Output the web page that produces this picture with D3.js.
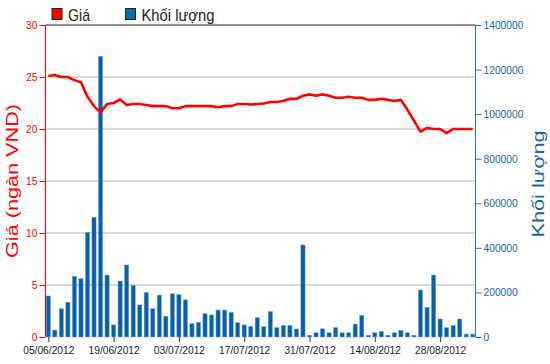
<!DOCTYPE html>
<html><head><meta charset="utf-8">
<script src="https://cdn.jsdelivr.net/npm/d3@7/dist/d3.min.js"></script>
<style>body{margin:0;background:#fff;}svg{display:block;font-family:"Liberation Sans",Arial,sans-serif;}</style>
</head><body>
<svg id="c" width="550" height="364"></svg>
<script>
const dates = ["05/06/2012","06/06/2012","07/06/2012","08/06/2012","11/06/2012","12/06/2012","13/06/2012","14/06/2012","15/06/2012","18/06/2012",
"19/06/2012","20/06/2012","21/06/2012","22/06/2012","25/06/2012","26/06/2012","27/06/2012","28/06/2012","29/06/2012","02/07/2012",
"03/07/2012","04/07/2012","05/07/2012","06/07/2012","09/07/2012","10/07/2012","11/07/2012","12/07/2012","13/07/2012","16/07/2012",
"17/07/2012","18/07/2012","19/07/2012","20/07/2012","23/07/2012","24/07/2012","25/07/2012","26/07/2012","27/07/2012","30/07/2012",
"31/07/2012","01/08/2012","02/08/2012","03/08/2012","06/08/2012","07/08/2012","08/08/2012","09/08/2012","10/08/2012","13/08/2012",
"14/08/2012","15/08/2012","16/08/2012","17/08/2012","20/08/2012","21/08/2012","22/08/2012","23/08/2012","24/08/2012","27/08/2012",
"28/08/2012","29/08/2012","30/08/2012","31/08/2012","04/09/2012","05/09/2012"];
const price = [25.1,25.2,25.0,25.0,24.7,24.5,23.1,22.2,21.6,22.4,
22.5,22.85,22.3,22.4,22.4,22.3,22.2,22.2,22.2,22.0,
22.0,22.2,22.2,22.2,22.2,22.2,22.1,22.2,22.2,22.4,
22.4,22.35,22.4,22.45,22.6,22.6,22.7,22.9,22.9,23.2,
23.33,23.2,23.33,23.2,23.0,23.0,23.1,23.0,23.0,22.8,
22.8,22.9,22.8,22.7,22.8,21.85,20.8,19.75,20.1,20.0,
20.0,19.6,20.0,20.0,20.0,20.0];
const volume = [184000,31000,127000,156000,272000,263000,470000,537000,1260000,278000,
54000,251000,323000,232000,144000,200000,127000,188000,93000,194000,
190000,167000,60000,66000,105000,99000,121000,121000,111000,64000,
54000,48000,87000,46000,114000,42000,52000,52000,36000,413000,
8000,19000,37000,19000,42000,19000,19000,58000,97000,8000,
19000,25000,8000,19000,30000,19000,8000,211000,133000,278000,
81000,42000,52000,81000,13000,13000];
const xTickLabels = ["05/06/2012","19/06/2012","03/07/2012","17/07/2012","31/07/2012","14/08/2012","28/08/2012"];
const priceTicks = [0,5,10,15,20,25,30];
const volumeTicks = [0,200000,400000,600000,800000,1000000,1200000,1400000];
const legendLabels = ["Giá","Khối lượng"];
const leftTitle = "Giá (ngàn VND)";
const rightTitle = "Khối lượng";

const svg = d3.select("#c");
const L = 45.5, R = 475.5, T = 25, B = 337;
const x = d3.scalePoint().domain(dates).range([48.3, 472.75]);
const yP = d3.scaleLinear().domain([0,30]).range([B,T]);
const yV = d3.scaleLinear().domain([0,1400000]).range([B,T]);
const RED = "#ff0000", BLUE = "#2474b4", BLUE_T = "#1666a3";

function squeeze(sel, k){
  sel.each(function(){
    const l = this.getComputedTextLength();
    this.setAttribute("textLength", l*k);
    this.setAttribute("lengthAdjust","spacingAndGlyphs");
  });
}

// grid
svg.append("g").selectAll("line").data(priceTicks.filter(d=>d>0 && d<30)).join("line")
  .attr("x1",L).attr("x2",R).attr("y1",d=>yP(d)).attr("y2",d=>yP(d))
  .attr("stroke","#cccccc").attr("stroke-width",1.6);
svg.append("line").attr("x1",L).attr("x2",R).attr("y1",yP(30)).attr("y2",yP(30))
  .attr("stroke","#222").attr("stroke-width",1);

// bars
const bw = 4.2;
svg.append("g").selectAll("rect").data(volume).join("rect")
  .attr("x",(d,i)=>x(dates[i])-bw/2).attr("width",bw)
  .attr("y",d=>yV(d)).attr("height",d=>B-yV(d))
  .attr("fill","#0b5ea8").attr("stroke","#6aa6dc").attr("stroke-width",0.5);

// price line
svg.append("path").datum(price)
  .attr("d", d3.line().x((d,i)=>x(dates[i])).y(d=>yP(d)))
  .attr("fill","none").attr("stroke",RED).attr("stroke-width",2.6).attr("stroke-linejoin","round");

// left axis
const gl = svg.append("g").attr("transform",`translate(${L},0)`)
  .call(d3.axisLeft(yP).tickValues(priceTicks).tickSize(6).tickPadding(2));
gl.select(".domain").attr("stroke",RED).attr("d",`M0,${B}V${T}`);
gl.selectAll(".tick line").attr("stroke",RED);
gl.selectAll(".tick text").attr("fill",RED).attr("font-size","11px").attr("font-family","Liberation Sans, Arial, sans-serif").call(squeeze,0.93);

// right axis
const gr = svg.append("g").attr("transform",`translate(${R},0)`)
  .call(d3.axisRight(yV).tickValues(volumeTicks).tickFormat(d3.format("d")).tickSize(6).tickPadding(2));
gr.select(".domain").attr("stroke",BLUE).attr("d",`M0,${B}V${T}`);
gr.selectAll(".tick line").attr("stroke",BLUE);
gr.selectAll(".tick text").attr("fill",BLUE_T).attr("font-size","11px").attr("font-family","Liberation Sans, Arial, sans-serif").call(squeeze,0.93);

// bottom axis
const gb = svg.append("g").attr("transform",`translate(0,${B})`)
  .call(d3.axisBottom(x).tickValues(xTickLabels).tickSize(5).tickPadding(4));
gb.select(".domain").remove();
gb.selectAll(".tick line").attr("stroke","#333");
gb.selectAll(".tick text").attr("fill","#222").attr("font-size","11px").attr("font-family","Liberation Sans, Arial, sans-serif").call(squeeze,0.93);

// titles
svg.append("text").attr("transform","translate(17.5,181) rotate(-90) scale(1,0.75)")
  .attr("text-anchor","middle").attr("fill",RED).attr("font-size","21px")
  .attr("textLength",154).attr("lengthAdjust","spacingAndGlyphs").text(leftTitle);
svg.append("text").attr("transform","translate(544,184) rotate(-90) scale(1,0.75)")
  .attr("text-anchor","middle").attr("fill",BLUE_T).attr("font-size","21px")
  .attr("textLength",107).attr("lengthAdjust","spacingAndGlyphs").text(rightTitle);

// legend
const legColors = [RED, "#0b6aa8"];
const legX = [52, 125.5], legLen = [22, 73];
legendLabels.forEach((lab,i)=>{
  svg.append("rect").attr("x",legX[i]).attr("y",8.5).attr("width",10).attr("height",11)
    .attr("fill",legColors[i]).attr("stroke","#222").attr("stroke-width",1);
  svg.append("text").attr("x",legX[i]+16).attr("y",20.5).attr("font-size","17px").attr("fill","#222")
    .attr("textLength",legLen[i]).attr("lengthAdjust","spacingAndGlyphs").text(lab);
});
</script>
</body></html>
